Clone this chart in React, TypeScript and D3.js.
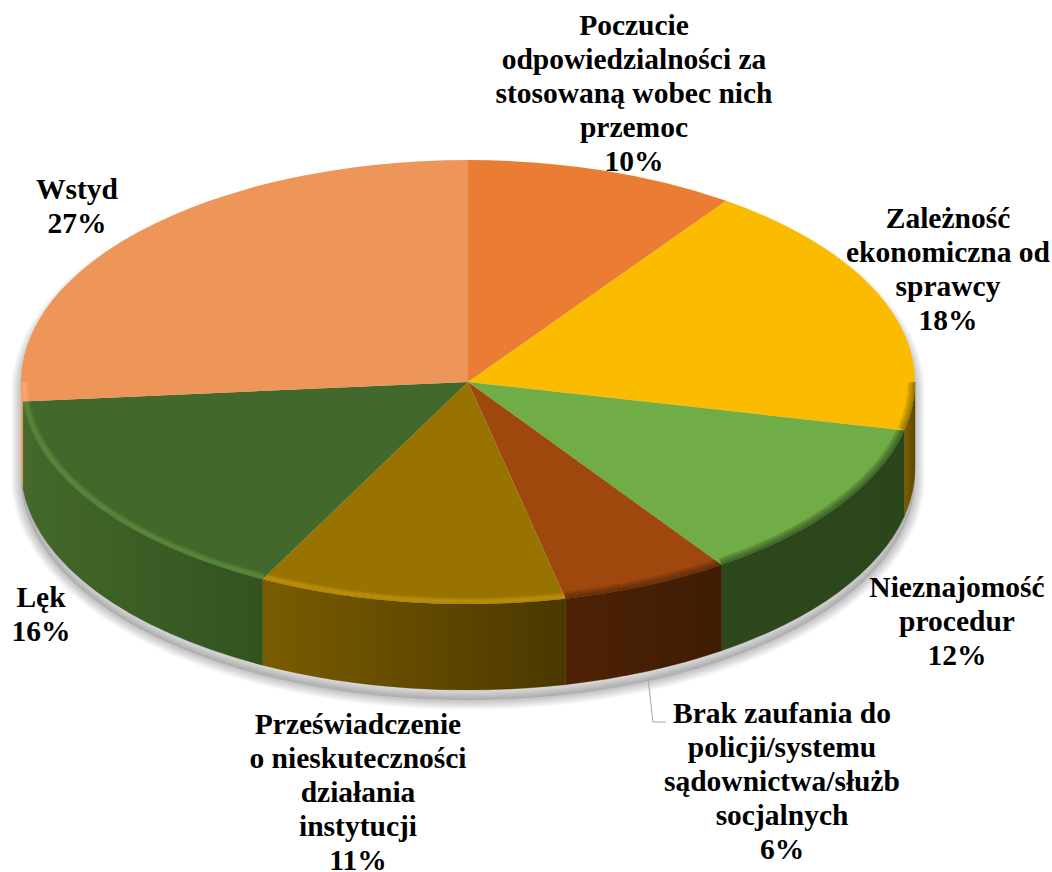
import React from "react";
import * as d3 from "d3";

const categories = [
  "Poczucie odpowiedzialności",
  "Zależność ekonomiczna",
  "Nieznajomość procedur",
  "Brak zaufania",
  "Przeświadczenie",
  "Lęk",
  "Wstyd",
];
const sliceValues = [9.8, 18.7, 11.9, 6.1, 11.1, 16.0, 26.4];
const topColors = ["#EA7D33", "#FBBC00", "#70AD47", "#9E480E", "#997300", "#43682B", "#EE9659"];
const wallLeft = ["#8f4a1c", "#7d6000", "#2d481d", "#4f2206", "#7a5c00", "#44692b", "#ffa86c"];
const wallRight = ["#8f4a1c", "#5e4800", "#2c461c", "#3e1c03", "#4a3800", "#33521f", "#f09a5e"];
const bevelColors = [null, null, null, null, "#d0a012", "#6a9c48", "#ffb27c"];

const labelLines = [
  { lines: ["Poczucie", "odpowiedzialności za", "stosowaną wobec nich", "przemoc", "10%"], x: 634, y: 35 },
  { lines: ["Zależność", "ekonomiczna od", "sprawcy", "18%"], x: 948, y: 228 },
  { lines: ["Nieznajomość", "procedur", "12%"], x: 957, y: 597 },
  { lines: ["Brak zaufania do", "policji/systemu", "sądownictwa/służb", "socjalnych", "6%"], x: 782, y: 723 },
  { lines: ["Przeświadczenie", "o nieskuteczności", "działania", "instytucji", "11%"], x: 358, y: 734 },
  { lines: ["Lęk", "16%"], x: 41, y: 607 },
  { lines: ["Wstyd", "27%"], x: 77, y: 199 },
];

const W = 1052;
const H = 872;
const cx = 468;
const cy = 382;
const rx = 447;
const ry = 222;
const depth = 86;
const lineH = 33.9;

const shadowWidths = d3.range(2, 21, 2);
const edgeWidths = [14, 10, 6, 3];
const bevelWidths = [8, 6, 4, 2];

const pie = d3.pie<number>().sort(null).value((d) => d);
const arcs = pie(sliceValues);
const yScale = ry / rx;
const arcGen = d3.arc<d3.PieArcDatum<number>>().innerRadius(0).outerRadius(rx);

const px = (t: number, a = rx) => cx + a * Math.sin(t);
const py = (t: number, b = ry) => cy - b * Math.cos(t);

function wallPath(s: number, e: number) {
  const x0 = px(s), y0 = py(s), x1 = px(e), y1 = py(e);
  return `M${x0},${y0}A${rx},${ry} 0 0 1 ${x1},${y1}L${x1},${y1 + depth}A${rx},${ry} 0 0 0 ${x0},${y0 + depth}Z`;
}
function rimPath(s: number, e: number, inset: number) {
  const a = rx - inset, b = ry - inset * 0.8;
  return `M${px(s, a)},${py(s, b)}A${a},${b} 0 0 1 ${px(e, a)},${py(e, b)}`;
}
const silhouette = `M${cx - rx},${cy}A${rx},${ry} 0 0 1 ${cx + rx},${cy}L${cx + rx},${cy + depth}A${rx},${ry} 0 0 1 ${cx - rx},${cy + depth}Z`;

export default function App() {
  const front = arcs
    .map((a, i) => ({
      i,
      s: Math.max(a.startAngle, Math.PI / 2),
      e: Math.min(a.endAngle, (3 * Math.PI) / 2),
    }))
    .filter((d) => d.e > d.s);
  return (
    <svg
      width={W}
      height={H}
      viewBox={`0 0 ${W} ${H}`}
      style={{ position: "absolute", left: 0, top: 0, background: "#fff" }}
      fontFamily="'Liberation Serif', serif"
    >
      <defs>
        {front.map(({ i, s, e }) => (
          <linearGradient
            key={i}
            id={`wall${i}`}
            gradientUnits="userSpaceOnUse"
            x1={Math.min(px(s), px(e))}
            x2={Math.max(px(s), px(e))}
            y1={0}
            y2={0}
          >
            <stop offset="0" stopColor={wallLeft[i]} />
            <stop offset="1" stopColor={wallRight[i]} />
          </linearGradient>
        ))}
        {arcs.map((a, i) => (
          <clipPath id={`top${i}`} key={i}>
            <path
              d={arcGen(a) ?? ""}
              transform={`translate(${cx},${cy}) scale(1,${yScale})`}
            />
          </clipPath>
        ))}
      </defs>

      <g transform="translate(0,10)">
        {shadowWidths
          .slice()
          .reverse()
          .map((w) => (
            <path
              key={w}
              d={silhouette}
              fill="none"
              stroke="#000"
              strokeOpacity={0.022}
              strokeWidth={w}
              strokeLinejoin="round"
            />
          ))}
        <path d={silhouette} fill="#000" fillOpacity={0.12} />
      </g>

      <g>
        {front.map(({ i, s, e }) => (
          <path
            key={i}
            d={wallPath(s, e)}
            fill={`url(#wall${i})`}
            stroke={`url(#wall${i})`}
            strokeWidth={0.4}
          />
        ))}
      </g>

      <g>
        {arcs.map((a, i) => (
          <path
            key={categories[i]}
            d={arcGen(a) ?? ""}
            transform={`translate(${cx},${cy}) scale(1,${yScale})`}
            fill={topColors[i]}
          />
        ))}
      </g>

      <g>
        {front.map(({ i, s, e }) => (
          <g key={i} clipPath={`url(#top${i})`}>
            {!bevelColors[i] &&
              edgeWidths.map((w) => (
                <path
                  key={w}
                  d={rimPath(s, e, 0)}
                  fill="none"
                  stroke={wallLeft[i]}
                  strokeWidth={w}
                  strokeOpacity={0.25}
                />
              ))}
            {bevelColors[i] &&
              bevelWidths.map((w) => (
                <path
                  key={w}
                  d={rimPath(s, e, 3)}
                  fill="none"
                  stroke={bevelColors[i] as string}
                  strokeWidth={w}
                  strokeOpacity={0.2}
                />
              ))}
          </g>
        ))}
      </g>

      <polyline
        points="648,678 653,722 666,722"
        fill="none"
        stroke="#a6a6a6"
        strokeWidth={1}
      />

      <g fontSize={29.5} fontWeight="bold" fill="#000" textAnchor="middle">
        {labelLines.map((l) => (
          <text key={l.lines[0]} x={l.x} y={l.y}>
            {l.lines.map((t, j) => (
              <tspan key={j} x={l.x} y={l.y + j * lineH}>
                {t}
              </tspan>
            ))}
          </text>
        ))}
      </g>
    </svg>
  );
}
